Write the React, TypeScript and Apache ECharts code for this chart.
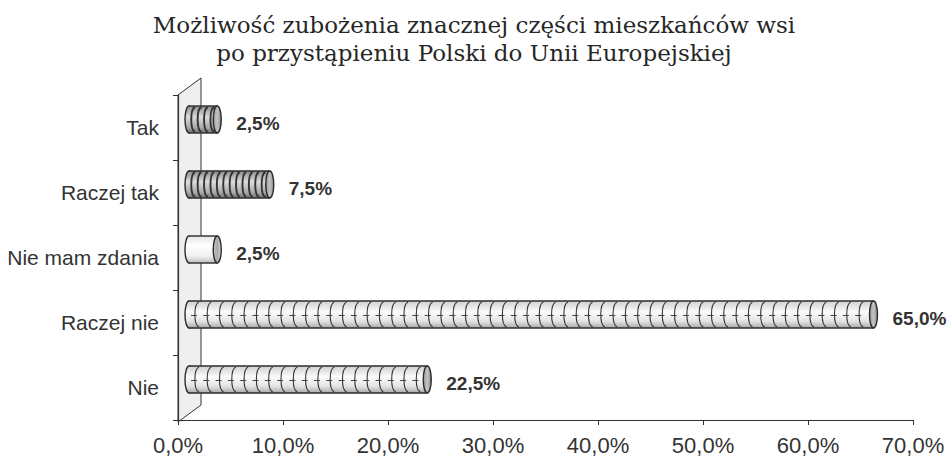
import React, { useEffect, useRef } from "react";
import * as echarts from "echarts";

const titleLines = [
  "Możliwość zubożenia znacznej części mieszkańców wsi",
  "po przystąpieniu Polski do Unii Europejskiej",
];
const categories = ["Tak", "Raczej tak", "Nie mam zdania", "Raczej nie", "Nie"];
const values = [2.5, 7.5, 2.5, 65.0, 22.5];
const patterns = ["dense", "dense", "plain", "ring", "ring"];
const xMin = 0;
const xMax = 70;
const xStep = 10;

const fmt = (v: number) => v.toFixed(1).replace(".", ",") + "%";

const GRID = { left: 178, right: 35, top: 95, bottom: 34 };
const DEPTH_X = 23;
const DEPTH_Y = 17;

export default function App() {
  const ref = useRef<HTMLDivElement>(null);
  useEffect(() => {
    if (!ref.current) return;
    const chart = echarts.init(ref.current, null, { renderer: "svg" });
    const H = 456;
    const fx = GRID.left;
    const ty = GRID.top;
    const by = H - GRID.bottom;

    const renderItem = (params: any, api: any) => {
      const v = api.value(0);
      const c = api.value(1);
      const pat = patterns[params.dataIndex];
      const p0 = api.coord([0, c]);
      const p1 = api.coord([v, c]);
      const h = 27;
      const cy = p0[1] - 8;
      const top = cy - h / 2;
      const bot = cy + h / 2;
      const rx = 4;
      const xL = p0[0] + 7 + rx;
      const xR = p1[0] + 13;
      const bodyFill =
        pat === "plain"
          ? {
              type: "linear", x: 0, y: 0, x2: 0, y2: 1,
              colorStops: [
                { offset: 0, color: "#e6e6e6" },
                { offset: 0.35, color: "#ffffff" },
                { offset: 0.75, color: "#f0f0f0" },
                { offset: 1, color: "#bdbdbd" },
              ],
            }
          : pat === "dense"
          ? {
              type: "linear", x: 0, y: 0, x2: 0, y2: 1,
              colorStops: [
                { offset: 0, color: "#8a8a8a" },
                { offset: 0.4, color: "#dcdcdc" },
                { offset: 0.8, color: "#a8a8a8" },
                { offset: 1, color: "#6f6f6f" },
              ],
            }
          : {
              type: "linear", x: 0, y: 0, x2: 0, y2: 1,
              colorStops: [
                { offset: 0, color: "#cfcfcf" },
                { offset: 0.4, color: "#fbfbfb" },
                { offset: 0.75, color: "#e4e4e4" },
                { offset: 1, color: "#a8a8a8" },
              ],
            };
      const children: any[] = [];
      children.push({
        type: "ellipse",
        shape: { cx: xL, cy, rx, ry: h / 2 },
        style: { fill: bodyFill, stroke: "#2b2b2b", lineWidth: 1.4 },
      });
      children.push({
        type: "rect",
        shape: { x: xL, y: top, width: Math.max(0, xR - xL), height: h },
        style: { fill: bodyFill },
      });
      children.push({
        type: "line",
        shape: { x1: xL, y1: top, x2: xR, y2: top },
        style: { stroke: "#2b2b2b", lineWidth: 1.4 },
      });
      children.push({
        type: "line",
        shape: { x1: xL, y1: bot, x2: xR, y2: bot },
        style: { stroke: "#2b2b2b", lineWidth: 1.4 },
      });
      if (pat === "ring" || pat === "dense") {
        const step = pat === "ring" ? 12.3 : 6.4;
        const bulge = pat === "ring" ? 5.5 : 5;
        const lw = pat === "ring" ? 1.1 : 1.9;
        const col = pat === "ring" ? "#333" : "#333";
        for (let xi = xL + (pat === "ring" ? 10 : 6); xi < xR - 3; xi += step) {
          children.push({
            type: "bezierCurve",
            shape: {
              x1: xi, y1: top + 1, x2: xi, y2: bot - 1,
              cpx1: xi - bulge, cpy1: top + 3, cpx2: xi - bulge, cpy2: bot - 3,
            },
            style: { stroke: col, lineWidth: lw, fill: "none" },
          });
          if (pat === "ring") {
            children.push({
              type: "line",
              shape: { x1: xi - 8, y1: cy + 1, x2: xi - 2, y2: cy + 1 },
              style: { stroke: "#444", lineWidth: 1 },
            });
          }
        }
      }
      children.push({
        type: "ellipse",
        shape: { cx: xR, cy, rx, ry: h / 2 },
        style: {
          fill: {
            type: "linear", x: 0, y: 0, x2: 1, y2: 0,
            colorStops: [
              { offset: 0, color: pat === "plain" ? "#c8c8c8" : "#999" },
              { offset: 0.5, color: pat === "plain" ? "#a8a8a8" : "#c4c4c4" },
              { offset: 1, color: pat === "plain" ? "#d6d6d6" : "#8a8a8a" },
            ],
          },
          stroke: "#2b2b2b",
          lineWidth: 1.4,
        },
      });
      children.push({
        type: "text",
        x: xR + rx + 15,
        y: cy + 4,
        style: {
          text: fmt(v),
          fontFamily: "Liberation Sans",
          fontSize: 19,
          fontWeight: "bold",
          fill: "#333",
          align: "left",
          verticalAlign: "middle",
        },
      });
      return { type: "group", children };
    };

    chart.setOption({
      animation: false,
      backgroundColor: "#ffffff",
      title: {
        text: titleLines.join("\n"),
        left: "center",
        top: 6,
        textStyle: {
          fontFamily: "DejaVu Serif",
          fontSize: 23,
          fontWeight: "normal",
          color: "#262626",
          lineHeight: 28,
        },
      },
      graphic: [
        {
          type: "polygon",
          z: 0,
          shape: {
            points: [
              [fx, ty],
              [fx + DEPTH_X, ty - DEPTH_Y],
              [fx + DEPTH_X, by - DEPTH_Y],
              [fx, by],
            ],
          },
          style: { fill: "#efefef", stroke: "#333", lineWidth: 1 },
        },
      ],
      grid: { ...GRID, containLabel: false },
      xAxis: {
        type: "value",
        min: xMin,
        max: xMax,
        interval: xStep,
        axisLine: { show: true, lineStyle: { color: "#333", width: 1.2 } },
        axisTick: { show: true, length: 5, lineStyle: { color: "#333" } },
        splitLine: { show: false },
        axisLabel: {
          formatter: (v: number) => fmt(v),
          fontFamily: "Liberation Sans",
          fontSize: 22,
          color: "#333",
          margin: 14,
        },
      },
      yAxis: {
        type: "category",
        data: categories,
        inverse: true,
        axisLine: { show: true, lineStyle: { color: "#333", width: 1.2 } },
        axisTick: { show: true, length: 5, lineStyle: { color: "#333" } },
        splitLine: { show: false },
        axisLabel: {
          fontFamily: "Liberation Sans",
          fontSize: 21,
          color: "#333",
          margin: 19,
        },
      },
      series: [
        {
          type: "custom",
          clip: false,
          z: 5,
          renderItem,
          encode: { x: 0, y: 1 },
          data: values.map((v, i) => [v, i]),
        },
      ],
    });
    return () => chart.dispose();
  }, []);
  return (
    <div
      ref={ref}
      style={{ position: "fixed", left: 0, top: 0, width: 948, height: 456 }}
    />
  );
}
